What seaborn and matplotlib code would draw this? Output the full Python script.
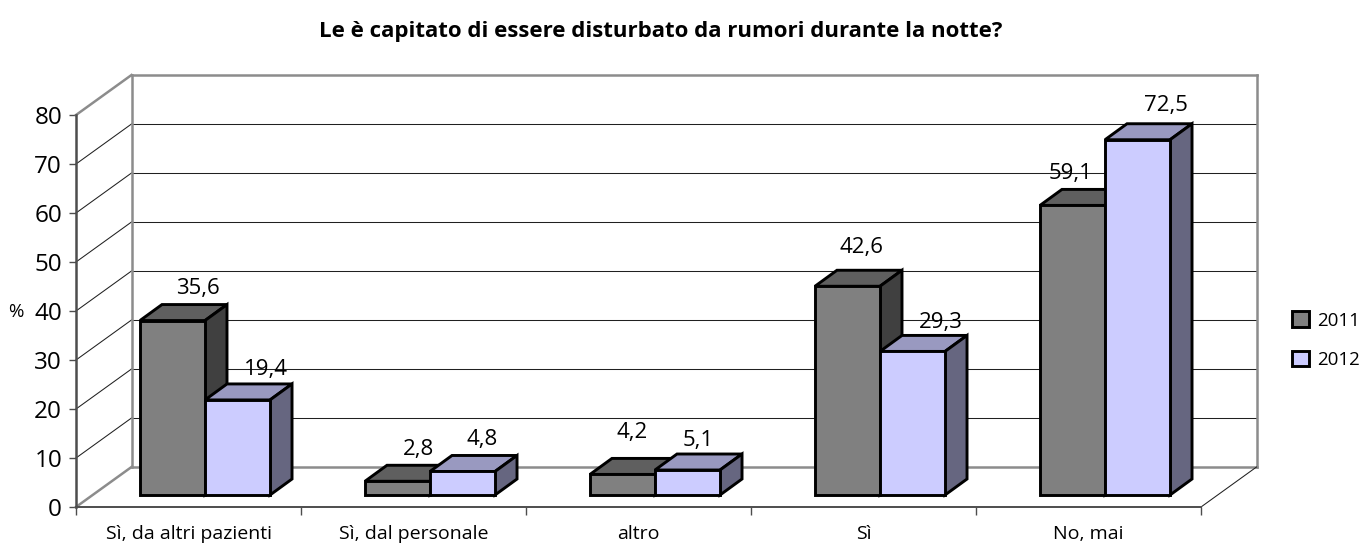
import matplotlib
matplotlib.use("Agg")
import matplotlib.pyplot as plt
import pandas as pd
import seaborn as sns
from matplotlib.patches import Polygon
from matplotlib.transforms import Affine2D, IdentityTransform

title = "Le è capitato di essere disturbato da rumori durante la notte?"
categories = ["Sì, da altri pazienti", "Sì, dal personale", "altro", "Sì", "No, mai"]
values_2011 = [35.6, 2.8, 4.2, 42.6, 59.1]
values_2012 = [19.4, 4.8, 5.1, 29.3, 72.5]
years = ["2011", "2012"]
y_ticks = [0, 10, 20, 30, 40, 50, 60, 70, 80]

FRONT = {"2011": "#808080", "2012": "#CCCCFF"}
TOP = {"2011": "#5F5F5F", "2012": "#9999C0"}
SIDE = {"2011": "#404040", "2012": "#666680"}
WALL = "#8C8C8C"
AXIS = "#4D4D4D"

# pseudo 3d offsets in pixels
WALL_DX, WALL_DY = 55.5, 40
BAR_DX, BAR_DY = 16.5, 12
DEPTH_DX, DEPTH_DY = 22, 16

# where each value label sits relative to the top of its bar (px)
label_nudge = {
    "2011": [(25, 32), (21, 32), (10, 42), (14, 39), (-2, 32)],
    "2012": [(28, 30), (20, 32), (11, 30), (28, 29), (28, 34)],
}

W, H = 1365, 543

sns.set_theme(style="white")
plt.rcParams["font.family"] = ["Open Sans", "DejaVu Sans"]
plt.rcParams["text.color"] = "black"
plt.rcParams["xtick.labelcolor"] = "black"
plt.rcParams["ytick.labelcolor"] = "black"

df = pd.DataFrame({
    "categoria": categories * 2,
    "anno": [years[0]] * 5 + [years[1]] * 5,
    "valore": values_2011 + values_2012,
})

fig = plt.figure(figsize=(W / 100, H / 100), dpi=100, facecolor="white")
ax = fig.add_axes([76 / W, (H - 507) / H, 1125 / W, 392 / H])
ax.patch.set_alpha(0)

sns.barplot(data=df, x="categoria", y="valore", hue="anno", order=categories,
            hue_order=years, palette=FRONT, saturation=1, width=0.578, gap=0,
            edgecolor="black", linewidth=2.1, ax=ax)
ax.set_xlim(-0.5, len(categories) - 0.5)
ax.set_ylim(0, 80)


def px(x, v, dx=0, dy=0):
    xd, yd = ax.transData.transform((x, v))
    return xd + dx, yd + dy


def line(p, q, **kw):
    ax.add_line(plt.Line2D([p[0], q[0]], [p[1], q[1]], transform=IdentityTransform(),
                           clip_on=False, solid_capstyle="projecting", **kw))


x0, x1 = ax.get_xlim()

# back wall, gridlines and the left side wall
for v in y_ticks[1:-1]:
    line(px(x0, v, WALL_DX, WALL_DY), px(x1, v, WALL_DX, WALL_DY), color="#202020", lw=0.75, zorder=1)
    line(px(x0, v), px(x0, v, WALL_DX, WALL_DY), color="#202020", lw=0.75, zorder=1)
line(px(x0, 0, WALL_DX, WALL_DY), px(x1, 0, WALL_DX, WALL_DY), color=WALL, lw=1.8, zorder=1.2)
line(px(x0, 80, WALL_DX, WALL_DY), px(x1, 80, WALL_DX, WALL_DY), color=WALL, lw=1.8, zorder=1.2)
line(px(x0, 0, WALL_DX, WALL_DY), px(x0, 80, WALL_DX, WALL_DY), color=WALL, lw=1.8, zorder=1.2)
line(px(x1, 0, WALL_DX, WALL_DY), px(x1, 80, WALL_DX, WALL_DY), color=WALL, lw=1.8, zorder=1.2)
line(px(x0, 0), px(x0, 0, WALL_DX, WALL_DY), color=WALL, lw=1.8, zorder=1.2)
line(px(x0, 80), px(x0, 80, WALL_DX, WALL_DY), color=WALL, lw=1.8, zorder=1.2)
line(px(x1, 0), px(x1, 0, WALL_DX, WALL_DY), color="#202020", lw=0.75, zorder=1.2)

# bars: push the front faces back, add side and top faces
z = 3
shift = ax.transData + Affine2D().translate(BAR_DX, BAR_DY)
for year, container in zip(years, ax.containers):
    for bar, (nx, ny) in zip(container, label_nudge[year]):
        x_a, x_b = bar.get_x(), bar.get_x() + bar.get_width()
        val = bar.get_height()
        bar.set_transform(shift)
        bar.set_clip_on(False)
        bar.set_zorder(z + 2)
        bar.set_joinstyle("miter")
        a = px(x_a, val, BAR_DX, BAR_DY)
        b = px(x_b, val, BAR_DX, BAR_DY)
        c = px(x_b, 0, BAR_DX, BAR_DY)
        top = [a, b, (b[0] + DEPTH_DX, b[1] + DEPTH_DY), (a[0] + DEPTH_DX, a[1] + DEPTH_DY)]
        side = [b, c, (c[0] + DEPTH_DX, c[1] + DEPTH_DY), (b[0] + DEPTH_DX, b[1] + DEPTH_DY)]
        for pts, col in ((top, TOP[year]), (side, SIDE[year])):
            ax.add_patch(Polygon(pts, closed=True, facecolor=col, edgecolor="black", lw=2.1,
                                 transform=IdentityTransform(), clip_on=False, zorder=z,
                                 joinstyle="miter"))
        tx, ty = px((x_a + x_b) / 2, val, BAR_DX + nx, BAR_DY + ny)
        ax.text(tx, ty, f"{val:.1f}".replace(".", ","), transform=IdentityTransform(),
                ha="center", va="center", fontsize=16, color="black", zorder=100, clip_on=False)
        z += 3

sns.despine(ax=ax)
ax.spines["left"].set_color(AXIS)
ax.spines["left"].set_linewidth(1.8)
ax.spines["bottom"].set_color(AXIS)
ax.spines["bottom"].set_linewidth(1.4)
ax.set_yticks(y_ticks)
ax.set_yticklabels([str(t) for t in y_ticks], fontsize=17.5)
ax.tick_params(axis="y", left=True, length=5, width=1, color=AXIS, pad=5)
ax.set_xticks([x0 + i for i in range(len(categories) + 1)], minor=True)
ax.tick_params(axis="x", which="minor", bottom=True, length=6, width=1, color=AXIS)
ax.tick_params(axis="x", which="major", bottom=False, pad=7, labelsize=14)
ax.set_xlabel("")
ax.set_ylabel("")
fig.text(16 / W, (H - 312) / H, "%", ha="center", va="center", fontsize=13.5, color="black")
fig.text(661 / W, (H - 31) / H, title, ha="center", va="center", fontsize=16, fontweight="bold", color="black")

handles, labels = ax.get_legend_handles_labels()
leg = ax.legend(handles, labels, loc="center left", bbox_to_anchor=(1292 / W, (H - 340) / H),
                bbox_transform=fig.transFigure, frameon=False, fontsize=13.5, handlelength=0.92,
                handleheight=0.92, handletextpad=0.42, labelspacing=1.12, borderpad=0, borderaxespad=0)
for t in leg.get_texts():
    t.set_color("black")

fig.savefig("out.png", dpi=100)
